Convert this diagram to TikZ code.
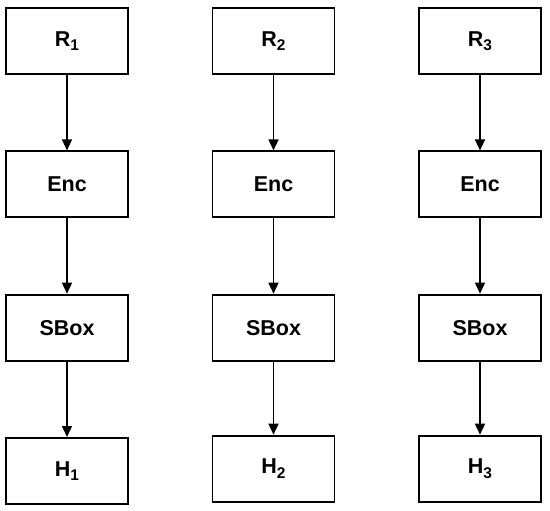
\documentclass[tikz,border=0pt]{standalone}
\usepackage{fontspec}
\setmainfont{Liberation Sans}
\usetikzlibrary{positioning, arrows.meta}

\newcommand{\idx}[1]{\raisebox{-4.5pt}{\fontsize{15.5}{18}\selectfont #1}}

\tikzset{
    block/.style={draw, line width=1.8pt, minimum width=122pt, minimum height=66pt,
        inner sep=0pt, font=\bfseries\fontsize{21.5}{25}\selectfont},
    flow/.style={line width=1.5pt, -{Triangle[length=11pt, width=10pt]}}
}

\begin{document}
\begin{tikzpicture}[node distance=143.3pt and 206.5pt, on grid]
    \useasboundingbox (0,0) rectangle (550pt,-511pt);

    % round keys
    \node[block] (r1) at (67pt,-41pt) {R\idx{1}};
    \node[block, right=of r1] (r2) {R\idx{2}};
    \node[block, right=of r2] (r3) {R\idx{3}};

    % encryption
    \node[block, below=of r1] (enc1) {Enc};
    \node[block, below=of r2] (enc2) {Enc};
    \node[block, below=of r3] (enc3) {Enc};

    % substitution
    \node[block, below=of enc1] (sbox1) {SBox};
    \node[block, below=of enc2] (sbox2) {SBox};
    \node[block, below=of enc3] (sbox3) {SBox};

    % outputs
    \node[block, below=of sbox1] (h1) {H\idx{1}};
    \node[block, below=141pt of sbox2] (h2) {H\idx{2}};
    \node[block, below=141pt of sbox3] (h3) {H\idx{3}};

    \path[flow]
        (r1) edge (enc1)
        (r2) edge (enc2)
        (r3) edge (enc3)
        (enc1) edge (sbox1)
        (enc2) edge (sbox2)
        (enc3) edge (sbox3)
        (sbox1) edge (h1)
        (sbox2) edge (h2)
        (sbox3) edge (h3);
\end{tikzpicture}
\end{document}
